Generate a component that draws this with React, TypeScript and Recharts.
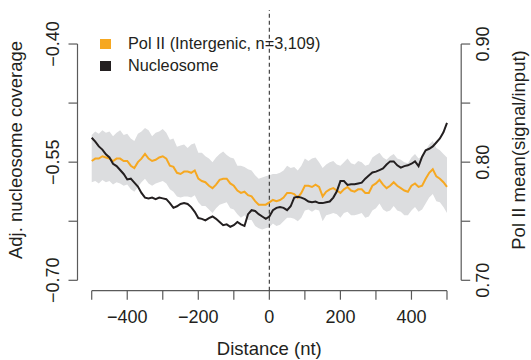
import {
  ComposedChart,
  Line,
  Area,
  XAxis,
  YAxis,
  ReferenceLine,
} from 'recharts';

const distance = [
  -500, -490, -480, -470, -460, -450, -440, -430, -420, -410,
  -400, -390, -380, -370, -360, -350, -340, -330, -320, -310,
  -300, -290, -280, -270, -260, -250, -240, -230, -220, -210,
  -200, -190, -180, -170, -160, -150, -140, -130, -120, -110,
  -100, -90, -80, -70, -60, -50, -40, -30, -20, -10,
  0, 10, 20, 30, 40, 50, 60, 70, 80, 90,
  100, 110, 120, 130, 140, 150, 160, 170, 180, 190,
  200, 210, 220, 230, 240, 250, 260, 270, 280, 290,
  300, 310, 320, 330, 340, 350, 360, 370, 380, 390,
  400, 410, 420, 430, 440, 450, 460, 470, 480, 490,
  500,
];

// adjusted nucleosome coverage (left axis)
const nucleosome = [
  -0.519, -0.524, -0.530, -0.534, -0.540, -0.544, -0.552, -0.555, -0.560, -0.565,
  -0.572, -0.571, -0.576, -0.581, -0.589, -0.595, -0.596, -0.595, -0.597, -0.595,
  -0.596, -0.597, -0.602, -0.608, -0.606, -0.603, -0.602, -0.603, -0.607, -0.613,
  -0.621, -0.622, -0.624, -0.621, -0.619, -0.622, -0.626, -0.630, -0.629, -0.632,
  -0.630, -0.626, -0.629, -0.631, -0.616, -0.611, -0.612, -0.616, -0.619, -0.622,
  -0.619, -0.611, -0.608, -0.607, -0.608, -0.611, -0.606, -0.595, -0.594, -0.595,
  -0.597, -0.600, -0.601, -0.600, -0.602, -0.602, -0.601, -0.600, -0.595, -0.587,
  -0.574, -0.574, -0.579, -0.578, -0.578, -0.577, -0.576, -0.571, -0.567, -0.563,
  -0.562, -0.560, -0.558, -0.553, -0.549, -0.549, -0.554, -0.557, -0.555, -0.554,
  -0.552, -0.549, -0.555, -0.543, -0.535, -0.533, -0.530, -0.525, -0.520, -0.512,
  -0.500,
];

// Pol II mean signal/input (right axis)
const polII = [
  0.801, 0.803, 0.803, 0.805, 0.804, 0.803, 0.801, 0.803, 0.803, 0.801,
  0.801, 0.797, 0.795, 0.800, 0.803, 0.807, 0.803, 0.801, 0.802, 0.804,
  0.805, 0.803, 0.797, 0.796, 0.791, 0.790, 0.792, 0.792, 0.791, 0.793,
  0.786, 0.784, 0.783, 0.780, 0.778, 0.781, 0.785, 0.786, 0.786, 0.782,
  0.780, 0.776, 0.774, 0.775, 0.772, 0.771, 0.767, 0.764, 0.764, 0.764,
  0.766, 0.768, 0.767, 0.768, 0.770, 0.774, 0.774, 0.773, 0.770, 0.774,
  0.780, 0.780, 0.779, 0.781, 0.779, 0.771, 0.775, 0.777, 0.778, 0.776,
  0.774, 0.777, 0.779, 0.776, 0.775, 0.777, 0.777, 0.774, 0.774, 0.780,
  0.782, 0.785, 0.781, 0.778, 0.780, 0.783, 0.780, 0.778, 0.776, 0.775,
  0.780, 0.782, 0.779, 0.780, 0.786, 0.791, 0.794, 0.788, 0.786, 0.783,
  0.779,
];

const polIIUpper = [
  0.823, 0.826, 0.824, 0.827, 0.825, 0.826, 0.822, 0.825, 0.827, 0.823,
  0.824, 0.820, 0.818, 0.824, 0.826, 0.829, 0.827, 0.822, 0.825, 0.826,
  0.828, 0.825, 0.819, 0.820, 0.813, 0.814, 0.815, 0.812, 0.815, 0.816,
  0.808, 0.808, 0.805, 0.803, 0.800, 0.804, 0.807, 0.809, 0.806, 0.804,
  0.803, 0.797, 0.797, 0.796, 0.794, 0.793, 0.789, 0.786, 0.787, 0.788,
  0.789, 0.790, 0.790, 0.791, 0.793, 0.797, 0.795, 0.796, 0.793, 0.797,
  0.803, 0.801, 0.803, 0.804, 0.800, 0.795, 0.798, 0.800, 0.801, 0.798,
  0.797, 0.800, 0.803, 0.799, 0.798, 0.801, 0.800, 0.797, 0.798, 0.804,
  0.806, 0.808, 0.804, 0.802, 0.805, 0.807, 0.803, 0.802, 0.800, 0.799,
  0.804, 0.807, 0.803, 0.805, 0.810, 0.815, 0.818, 0.812, 0.810, 0.807,
  0.804,
];

const polIILower = [
  0.783, 0.784, 0.782, 0.785, 0.783, 0.784, 0.781, 0.783, 0.782, 0.780,
  0.781, 0.777, 0.775, 0.779, 0.783, 0.786, 0.782, 0.780, 0.782, 0.783,
  0.784, 0.782, 0.777, 0.775, 0.771, 0.770, 0.771, 0.771, 0.770, 0.772,
  0.766, 0.763, 0.763, 0.760, 0.757, 0.761, 0.764, 0.765, 0.766, 0.761,
  0.760, 0.756, 0.753, 0.755, 0.751, 0.751, 0.746, 0.744, 0.743, 0.744,
  0.745, 0.748, 0.746, 0.747, 0.750, 0.753, 0.753, 0.752, 0.750, 0.753,
  0.759, 0.760, 0.758, 0.760, 0.759, 0.750, 0.755, 0.756, 0.757, 0.756,
  0.753, 0.757, 0.758, 0.755, 0.755, 0.756, 0.757, 0.753, 0.754, 0.759,
  0.761, 0.765, 0.760, 0.758, 0.759, 0.763, 0.759, 0.758, 0.755, 0.755,
  0.759, 0.762, 0.758, 0.760, 0.765, 0.770, 0.773, 0.767, 0.766, 0.762,
  0.757,
];

const xTicks = [-500, -400, -300, -200, -100, 0, 100, 200, 300, 400, 500];
const xLabelled = [-400, -200, 0, 200, 400];
const leftTicks = [-0.7, -0.625, -0.55, -0.475, -0.4];
const leftLabelled = [-0.7, -0.55, -0.4];
const rightTicks = [0.7, 0.75, 0.8, 0.85, 0.9];
const rightLabelled = [0.7, 0.8, 0.9];

const legendItems = [
  { label: 'Pol II (Intergenic, n=3,109)', color: '#f6a821' },
  { label: 'Nucleosome', color: '#231f20' },
];

const FONT = '"Liberation Sans", Arial, Helvetica, sans-serif';
const AXIS = '#5a5a5a';
const TEXT = '#231f20';

const rows = distance.map((d, i) => ({
  d,
  nuc: nucleosome[i],
  pol: polII[i],
  band: [polIILower[i], polIIUpper[i]],
}));

const minus = (s: string) => s.replace('-', '\u2212');

function XTick({ x, y, payload }: any) {
  const v = payload.value;
  if (!xLabelled.includes(v)) return null;
  return (
    <text x={x} y={y + 13} textAnchor="middle" fontSize={18} fill={TEXT} fontFamily={FONT}>
      {minus(String(v))}
    </text>
  );
}

function makeYTick(labelled: number[]) {
  return ({ x, y, payload }: any) => {
    const v = payload.value;
    if (!labelled.some((l) => Math.abs(l - v) < 1e-9)) return null;
    return (
      <text
        x={x}
        y={y}
        transform={`rotate(-90 ${x} ${y})`}
        textAnchor="middle"
        fontSize={18}
        fill={TEXT}
        fontFamily={FONT}
      >
        {minus(v.toFixed(2))}
      </text>
    );
  };
}

const LeftTick = makeYTick(leftLabelled);
const RightTick = makeYTick(rightLabelled);

function VTitle({ x, y, text }: { x: number; y: number; text: string }) {
  return (
    <text
      x={x}
      y={y}
      transform={`rotate(-90 ${x} ${y})`}
      textAnchor="middle"
      fontSize={18.5}
      fill={TEXT}
      fontFamily={FONT}
    >
      {text}
    </text>
  );
}

export default function App() {
  return (
    <div style={{ position: 'absolute', left: 0, top: 0, width: 531, height: 360, background: '#fff' }}>
      <ComposedChart width={531} height={360} data={rows} margin={{ top: 10, right: 0, bottom: 0, left: 0 }}>
        <XAxis
          dataKey="d"
          type="number"
          domain={[-540, 540]}
          ticks={xTicks}
          allowDataOverflow
          height={69.3}
          axisLine={false}
          tickSize={9}
          tickMargin={10}
          tickLine={{ stroke: AXIS, strokeWidth: 1.2 }}
          tick={<XTick />}
          label={{
            content: () => (
              <text x={269.3} y={354.5} textAnchor="middle" fontSize={18.5} fill={TEXT} fontFamily={FONT}>
                Distance (nt)
              </text>
            ),
          }}
        />
        <YAxis
          yAxisId="left"
          orientation="left"
          domain={[-0.7132, -0.3568]}
          ticks={leftTicks}
          allowDataOverflow
          width={77.5}
          axisLine={false}
          tickSize={9}
          tickMargin={9.2}
          tickLine={{ stroke: AXIS, strokeWidth: 1.2 }}
          tick={<LeftTick />}
          label={{ content: () => <VTitle x={21.6} y={150} text="Adj. nucleosome coverage" /> }}
        />
        <YAxis
          yAxisId="right"
          orientation="right"
          domain={[0.6912, 0.9288]}
          ticks={rightTicks}
          allowDataOverflow
          width={69.8}
          axisLine={false}
          tickSize={9}
          tickMargin={19.3}
          tickLine={{ stroke: AXIS, strokeWidth: 1.2 }}
          tick={<RightTick />}
          label={{ content: () => <VTitle x={524.5} y={150} text="Pol II mean(signal/input)" /> }}
        />

        {/* axis lines only span the tick range, R style */}
        <ReferenceLine
          yAxisId="left"
          segment={[{ x: -540, y: -0.7 }, { x: -540, y: -0.4 }]}
          stroke={AXIS}
          strokeWidth={1.2}
          ifOverflow="visible"
        />
        <ReferenceLine
          yAxisId="right"
          segment={[{ x: 540, y: 0.7 }, { x: 540, y: 0.9 }]}
          stroke={AXIS}
          strokeWidth={1.2}
          ifOverflow="visible"
        />
        <ReferenceLine
          yAxisId="left"
          segment={[{ x: -500, y: -0.7132 }, { x: 500, y: -0.7132 }]}
          stroke={AXIS}
          strokeWidth={1.2}
          ifOverflow="visible"
        />

        <Area
          yAxisId="right"
          dataKey="band"
          type="linear"
          stroke="none"
          fill="#dcdddf"
          fillOpacity={1}
          isAnimationActive={false}
        />
        <ReferenceLine yAxisId="left" x={0} stroke="#444" strokeWidth={1.2} strokeDasharray="4 3" />
        <Line
          yAxisId="right"
          dataKey="pol"
          type="linear"
          stroke="#f6a821"
          strokeWidth={2}
          dot={false}
          isAnimationActive={false}
        />
        <Line
          yAxisId="left"
          dataKey="nuc"
          type="linear"
          stroke="#231f20"
          strokeWidth={2}
          dot={false}
          isAnimationActive={false}
        />
      </ComposedChart>

      <div
        style={{
          position: 'absolute',
          left: 100,
          top: 33,
          fontFamily: FONT,
          fontSize: 16.3,
          color: TEXT,
          pointerEvents: 'none',
        }}
      >
        {legendItems.map((item) => (
          <div key={item.label} style={{ display: 'flex', alignItems: 'center', height: 21.7 }}>
            <span style={{ width: 11, height: 10, background: item.color, marginRight: 17, display: 'inline-block' }} />
            <span style={{ whiteSpace: 'nowrap' }}>{item.label}</span>
          </div>
        ))}
      </div>
    </div>
  );
}
